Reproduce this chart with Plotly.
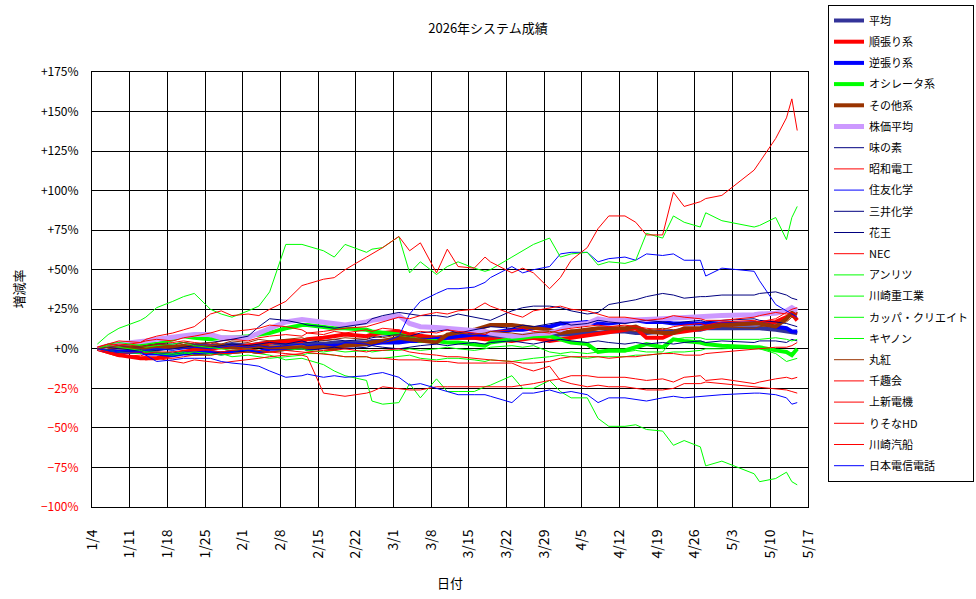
import plotly.graph_objects as go

# ---------------- data ----------------
dates = [
    "2026-01-05", "2026-01-07", "2026-01-09",
    "2026-01-13", "2026-01-14", "2026-01-16",
    "2026-01-19", "2026-01-21", "2026-01-23",
    "2026-01-26", "2026-01-28", "2026-01-30",
    "2026-02-02", "2026-02-04", "2026-02-06",
    "2026-02-09", "2026-02-12", "2026-02-13",
    "2026-02-16", "2026-02-18", "2026-02-20",
    "2026-02-24", "2026-02-25", "2026-02-27",
    "2026-03-02", "2026-03-04", "2026-03-06",
    "2026-03-09", "2026-03-11", "2026-03-13",
    "2026-03-16", "2026-03-18", "2026-03-19",
    "2026-03-23", "2026-03-25", "2026-03-27",
    "2026-03-30", "2026-04-01", "2026-04-03",
    "2026-04-06", "2026-04-08", "2026-04-10",
    "2026-04-13", "2026-04-15", "2026-04-17",
    "2026-04-20", "2026-04-22", "2026-04-24",
    "2026-04-27", "2026-04-28", "2026-05-01",
    "2026-05-07", "2026-05-08",
    "2026-05-11", "2026-05-13", "2026-05-14", "2026-05-15",
]

tick_dates = ["2026-01-04", "2026-01-11", "2026-01-18", "2026-01-25", "2026-02-01",
              "2026-02-08", "2026-02-15", "2026-02-22", "2026-03-01", "2026-03-08",
              "2026-03-15", "2026-03-22", "2026-03-29", "2026-04-05", "2026-04-12",
              "2026-04-19", "2026-04-26", "2026-05-03", "2026-05-10", "2026-05-17"]
tick_labels = ["1/4", "1/11", "1/18", "1/25", "2/1", "2/8", "2/15", "2/22", "3/1", "3/8",
               "3/15", "3/22", "3/29", "4/5", "4/12", "4/19", "4/26", "5/3", "5/10", "5/17"]

y_ticks = [175, 150, 125, 100, 75, 50, 25, 0, -25, -50, -75, -100]
y_labels = ["+175%", "+150%", "+125%", "+100%", "+75%", "+50%", "+25%", "+0%",
            "−25%", "−50%", "−75%", "−100%"]

# group averages
heikin = [0, 0, 1, 0, -1, 0, 1, 1, 2, 2, 2, 3, 2, 3, 4, 3, 4, 3, 3, 4, 4, 4, 5, 5,
          6, 5, 6, 6, 7, 7, 7, 7, 8, 8, 7, 8, 8, 9, 9, 10, 10, 11, 11, 10, 10,
          11, 11, 12, 12, 13, 13, 13, 13, 12, 11, 11, 10]
junbari = [0, -2, -4, -6, -6, -6, -4, -2, -1, 0, 1, 1, 2, 3, 4, 5, 5, 6, 7, 8, 9, 8, 9, 10,
           11, 9, 8, 7, 7, 7, 7, 6, 6, 5, 6, 7, 5, 6, 7, 9, 10, 11, 12, 13, 7,
           7, 10, 11, 12, 13, 15, 16, 16, 17, 20, 22, 18]
gyakubari = [0, -1, -2, -2, -3, -3, -4, -3, -3, -2, -3, -2, -1, -2, 0, 0, 1, 0, 1, 2, 2, 3, 3, 4,
             4, 5, 5, 6, 7, 8, 9, 9, 10, 12, 12, 13, 14, 16, 16, 17, 16, 16, 17, 18, 17,
             17, 16, 16, 16, 16, 16, 16, 16, 14, 13, 11, 11]
oscillator = [0, 1, 2, 2, 3, 3, 6, 8, 7, 6, 7, 7, 8, 9, 10, 13, 15, 15, 14, 13, 13, 12, 11, 10,
              9, 7, 5, 5, 4, 4, 3, 2, 4, 6, 7, 8, 8, 6, 4, 3, -2, -1, -1, 1, 3,
              1, 6, 5, 4, 3, 2, 1, 1, -1, -2, -4, 0]
sonota = [0, 1, 1, 1, 1, 2, 1, 2, 1, 1, 2, 1, 1, 2, 1, 1, 1, 1, 1, 0, 2, 3, 4, 5,
          7, 6, 5, 4, 9, 10, 12, 14, 15, 15, 14, 13, 12, 10, 11, 12, 13, 13, 13, 14, 11,
          10, 10, 13, 13, 14, 15, 16, 16, 14, 19, 23, 22]
kabuka = [0, 2, 3, 4, 5, 6, 7, 8, 9, 9, 7, 7, 7, 10, 13, 17, 18.5, 18, 17, 16, 15, 17, 18, 19,
          21, 16, 14, 13.5, 13, 12.5, 11, 11, 10, 8, 8.5, 9.5, 10, 12, 15, 16, 19, 18, 18, 18, 18.5,
          19, 19.5, 19.5, 20, 20.5, 21, 21.5, 22, 22.5, 24, 26, 24]

# individual stocks
ajinomoto = [0, 1, 0, -1, -2, -1, 0, 1, 2, 1, 2, 3, 2, 3, 4, 3, 5, 4, 5, 6, 5, 6, 7, 8,
             9, 8, 10, 11, 12, 10, 12, 13, 14, 13, 15, 14, 16, 17, 15, 16, 18, 17, 16, 17, 18,
             17, 16, 17, 18, 17, 18, 19, 18, 17, 16, 15, 14]
showa_denko = [0, 2, 3, 2, 1, 3, 4, 5, 4, 3, 5, 6, 5, 7, 8, 9, 8, 10, 9, 11, 10, 12, 11, 13,
               12, 10, 11, 10, 12, 11, 10, 9, 11, 12, 13, 11, 10, 12, 13, 14, 15, 14, 15, 14, 13,
               12, 14, 15, 16, 15, 17, 18, 17, 19, 23, 25, 26]
sumitomo_chem = [0, -1, -2, -2, -1, 0, -1, 0, 1, 0, 1, 2, 1, 2, 1, 2, 3, 2, 3, 2, 4, 3, 2, 4,
                 8, 22, 30, 35, 38, 38, 39, 42, 45, 52, 48, 50, 52, 60, 61, 61, 55, 57, 58, 56, 60,
                 59, 60, 56, 56, 46, 51, 49, 43, 28, 24, 22, 20]
mitsui_chem = [0, 1, 2, 1, 2, 3, 3, 4, 3, 4, 5, 6, 8, 14, 19, 18, 16, 15, 14, 13, 14, 16, 19, 21,
               23, 22, 21, 21, 20, 22, 20, 19, 18, 24, 26, 27, 27, 26, 24, 22, 23, 28, 30, 31, 33,
               35, 34, 32, 33, 33, 34, 34, 35, 36, 34, 32, 31]
kao = [0, -1, -2, -1, -2, -3, -2, -3, -4, -3, -2, -1, -2, -3, -2, -1, 0, -1, 0, 1, 0, 1, 2, 1,
       0, 1, 2, 3, 2, 3, 4, 3, 4, 5, 4, 3, 5, 6, 5, 4, 5, 4, 3, 4, 3,
       4, 3, 4, 5, 4, 5, 4, 5, 5, 4, 6, 5]
nec = [1, 3, 2, 4, 5, 6, 5, 7, 8, 10, 12, 11, 12, 13, 15, 14, 12, 10, 11, 12, 13, 14, 15, 17,
       20, 19, 21, 23, 22, 24, 25, 29, 27, 22, 20, 24, 26, 27, 25, 24, 22, 20, 20, 19, 18,
       19, 21, 20, 19, 18, 18, 20, 21, 23, 22, 23, 22]
anritsu = [0, 3, 4, 2, 1, 2, 3, 4, 2, 1, 0, -1, 0, -1, -2, -1, 0, -1, -2, -1, -2, -1, -2, -1,
           -1, 0, -1, 0, 1, 0, -1, 0, 1, 2, 1, 2, -2, -3, -2, -3, -2, -2, -2, -1, -2,
           -2, 6, 7, 7, 6, 6, 6, 6, 7, 6, 5, 6]
kawasaki_heavy = [0, -1, -2, -3, -2, -3, -4, -3, -2, -3, -4, -3, -2, -3, -4, -7, -6, -7, -10, -14, -17, -20, -33, -35,
                  -34, -22, -31, -19, -27, -27, -27, -24, -23, -17, -25, -25, -20, -27, -31, -31, -44, -49, -49, -48, -51,
                  -52, -61, -58, -62, -74, -71, -79, -84, -82, -78, -84, -86]
kappa_create = [3, 9, 13, 18, 20, 26, 30, 33, 35, 25, 22, 20, 24, 27, 36, 66, 66, 65, 62, 58, 66, 61, 63, 64,
                71, 48, 55, 47, 52, 55, 51, 49, 50, 58, 62, 66, 70, 58, 60, 61, 53, 55, 54, 56, 73,
                70, 84, 80, 77, 86, 81, 77, 78, 83, 69, 83, 90]
canon = [0, 2, 1, -1, -2, -2, -3, -2, -4, -4, -3, -5, -4, -5, -6, -5, -4, -3, -3, -4, -5, -5, -6, -6,
         -5, -4, -6, -7, -6, -6, -7, -8, -7, -8, -7, -6, -5, -4, -5, -6, -5, -5, -5, -4, -4,
         -3, -2, -2, -1, 0, 0, 1, 0, -3, -8, -7, -6]
marubeni = [0, 1, 2, 1, 2, 3, 2, 4, 3, 4, 3, 5, 4, 6, 5, 6, 7, 6, 5, 6, 7, 6, 8, 7,
            9, 8, 7, 8, 9, 10, 9, 10, 11, 10, 9, 10, 11, 10, 12, 11, 12, 13, 12, 11, 12,
            13, 12, 13, 12, 13, 14, 13, 14, 15, 17, 20, 19]
senshukai = [0, -2, -3, -2, -3, -2, -2, -1, 0, -1, -2, -1, 0, -1, -2, -1, -2, -2, -3, -4, -5, -5, -6, -6,
             -7, -7, -7, -8, -8, -9, -9, -9, -9, -9, -12, -14, -11, -20, -22, -24, -23, -24, -24, -25, -26,
             -26, -25, -22, -22, -21, -22, -24, -24, -25, -26, -27, -28]
joshin_denki = [0, -2, -4, -6, -7, -6, -8, -9, -7, -8, -9, -8, -7, -6, -5, -4, -3, -2, -1, -1, 0, -2, -1, -1,
                0, -2, -3, -4, -5, -5, -6, -7, -7, -8, -9, -9, -8, -6, -5, -5, -5, -6, -5, -5, -4,
                -3, -3, -4, -4, -3, -2, 0, 0, 1, 1, 2, 4]
resona = [-1, -3, -5, -4, -5, -6, -6, -5, -4, -4, -3, -3, -2, -3, -2, -3, -4, -5, -28, -29, -30, -28, -27, -24,
          -25, -26, -26, -24, -24, -24, -24, -24, -24, -24, -23, -22, -20, -19, -17, -17, -18, -18, -18, -19, -20,
          -19, -21, -18, -17, -20, -19, -22, -21, -19, -18, -19, -18]
kawasaki_kisen = [1, 3, 5, 4, 6, 8, 10, 12, 14, 22, 24, 21, 22, 21, 25, 30, 40, 41, 44, 45, 50, 58, 60, 64,
                  71, 62, 67, 48, 63, 52, 51, 58, 55, 48, 51, 48, 38, 45, 56, 64, 76, 84, 84, 80, 72,
                  72, 99, 90, 93, 95, 97, 113, 118, 133, 146, 158, 138]
ntt = [0, -1, -2, -2, -4, -8, -7, -6, -6, -6, -8, -9, -10, -11, -14, -18, -17, -16, -18, -17, -18, -17, -16, -15,
       -18, -23, -22, -25, -27, -29, -29, -29, -30, -34, -28, -28, -26, -28, -27, -29, -34, -31, -31, -32, -33,
       -31, -30, -31, -30, -30, -29, -28, -28, -29, -31, -35, -34]

RED, BLUE, LIME, BROWN, NAVY = "#FF0000", "#0000FF", "#00FF00", "#993300", "#000080"

series = [
    ("平均", heikin, "#333399", 4),
    ("順張り系", junbari, RED, 4),
    ("逆張り系", gyakubari, BLUE, 4),
    ("オシレータ系", oscillator, LIME, 4),
    ("その他系", sonota, BROWN, 4),
    ("株価平均", kabuka, "#CC99FF", 5),
    ("味の素", ajinomoto, NAVY, 1),
    ("昭和電工", showa_denko, RED, 1),
    ("住友化学", sumitomo_chem, BLUE, 1),
    ("三井化学", mitsui_chem, NAVY, 1),
    ("花王", kao, NAVY, 1),
    ("NEC", nec, RED, 1),
    ("アンリツ", anritsu, LIME, 1),
    ("川崎重工業", kawasaki_heavy, LIME, 1),
    ("カッパ・クリエイト", kappa_create, LIME, 1),
    ("キヤノン", canon, LIME, 1),
    ("丸紅", marubeni, BROWN, 1),
    ("千趣会", senshukai, RED, 1),
    ("上新電機", joshin_denki, RED, 1),
    ("りそなHD", resona, RED, 1),
    ("川崎汽船", kawasaki_kisen, RED, 1),
    ("日本電信電話", ntt, BLUE, 1),
]

FONT = "Noto Sans CJK JP, Noto Sans, sans-serif"

# plot area in pixels: left 92, right 808, top 72, bottom 507
W, H = 976, 599
PL, PR, PT, PB = 92, 808, 72, 507
MT = 5
gs_h = H - MT - (H - PB)

fig = go.Figure()
for name, vals, color, width in series:
    assert len(vals) == len(dates), name
    fig.add_trace(go.Scatter(
        x=dates, y=vals, name=name, mode="lines", legendgroup=name,
        line=dict(color=color, width=width),
    ))

y_text = [f'<span style="color:#FF0000">{t}</span>' if v < 0 else t
          for v, t in zip(y_ticks, y_labels)]

fig.update_layout(
    width=W, height=H,
    margin=dict(l=PL, r=W - PR, t=MT, b=H - PB, autoexpand=False),
    paper_bgcolor="white", plot_bgcolor="white",
    font=dict(family=FONT, size=12, color="black"),
    title=dict(text="2026年システム成績", x=0.5, xref="container", xanchor="center",
               y=1 - 28 / H, yref="container", yanchor="middle",
               font=dict(family=FONT, size=13, color="black")),
    showlegend=True,
    legend=dict(x=1 + (828 - PR) / (PR - PL), y=1, xref="paper", yref="paper",
                xanchor="left", yanchor="top",
                bordercolor="black", borderwidth=1, bgcolor="white",
                font=dict(family=FONT, size=11, color="black"),
                tracegroupgap=2.2, itemwidth=30, traceorder="grouped"),
    xaxis=dict(type="date", range=["2026-01-04", "2026-05-17"],
               tickmode="array", tickvals=tick_dates, ticktext=tick_labels,
               tickangle=-90, ticklabelstandoff=16,
               showgrid=True, gridcolor="black", gridwidth=1,
               showline=True, linecolor="black", linewidth=1, mirror=True,
               ticks="", zeroline=False,
               tickfont=dict(family=FONT, size=14, color="black")),
    yaxis=dict(range=[-100, 175], tickmode="array", tickvals=y_ticks, ticktext=y_text,
               domain=[0, (PB - PT) / gs_h],
               ticklabelstandoff=10,
               showgrid=True, gridcolor="black", gridwidth=1,
               showline=True, linecolor="black", linewidth=1, mirror=True,
               ticks="", zeroline=False,
               tickfont=dict(family=FONT, size=12, color="black")),
    annotations=[
        dict(text="増減率", textangle=-90, xref="x domain", yref="y domain",
             x=(18 - PL) / (PR - PL), y=0.5, xanchor="center", yanchor="middle",
             showarrow=False, font=dict(family=FONT, size=13, color="black")),
        dict(text="日付", xref="x domain", yref="y domain",
             x=0.5, y=(PB - 582) / (PB - PT), xanchor="center", yanchor="middle",
             showarrow=False, font=dict(family=FONT, size=13, color="black")),
    ],
)

fig.write_html("out.html")
